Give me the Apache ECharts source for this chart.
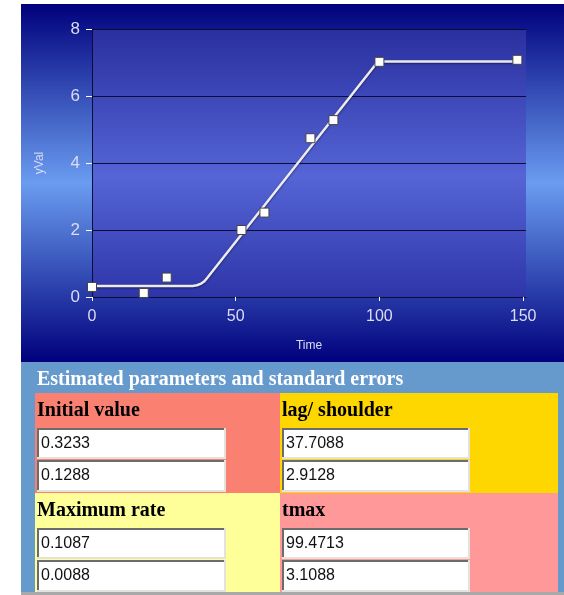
<!DOCTYPE html>
<html><head><meta charset="utf-8">
<script src="https://cdn.jsdelivr.net/npm/echarts@6/dist/echarts.min.js"></script>
<style>html,body{margin:0;padding:0;background:#fff}#chart{width:564px;height:595px}</style>
</head><body><div id="chart"></div>
<script>
// Observed growth measurements
const obsTime = [0, 18, 26, 52, 60, 76, 84, 100, 148];
const obsVal = [0.30, 0.12, 0.58, 2.00, 2.52, 4.74, 5.28, 7.02, 7.08];
// Fitted curve (lag, linear growth, plateau)
const fitTime = [0, 35, 36.5, 38, 39, 40, 99.5, 148];
const fitVal = [0.33, 0.33, 0.35, 0.40, 0.46, 0.56, 7.03, 7.03];
// Axis ticks
const xTicks = [0, 50, 100, 150];
const yTicks = [0, 2, 4, 6, 8];
// Parameter table
const tableTitle = 'Estimated parameters and standard errors';
const paramNames = ['Initial value', 'lag/ shoulder', 'Maximum rate', 'tmax'];
const paramValues = ['0.3233', '37.7088', '0.1087', '99.4713'];
const paramErrors = ['0.1288', '2.9128', '0.0088', '3.1088'];

const chart = echarts.init(document.getElementById('chart'), null, {renderer: 'canvas'});

const vGrad = (stops) => new echarts.graphic.LinearGradient(0, 0, 0, 1,
  stops.map(([o, c]) => ({offset: o, color: c})));

// Table layout
const cellFill = ['#FA8072', '#FFD700', '#FFFF99', '#FF9999'];
const cellX = [35, 280, 35, 280];
const cellW = [245, 278, 245, 278];
const cellY = [393, 393, 493, 493];
const cellH = [100, 100, 99, 99];
const serifBold = 'bold 20px "Liberation Serif", "Times New Roman", serif';

function inputBox(x, y, w, h, text) {
  return [
    {type: 'rect', shape: {x: x, y: y, width: w, height: h}, style: {fill: '#e4e2dc'}, z: 1},
    {type: 'rect', shape: {x: x, y: y, width: w - 2, height: h - 2}, style: {fill: '#6c6c6c'}, z: 1},
    {type: 'rect', shape: {x: x + 2, y: y + 2, width: w - 4, height: h - 4}, style: {fill: '#ffffff'}, z: 1},
    {type: 'text', x: x + 4, y: y + h / 2, z: 2,
      style: {text: text, fill: '#111', font: '16px "Liberation Sans", Arial, sans-serif',
        textVerticalAlign: 'middle', textAlign: 'left'}}
  ];
}

const elements = [
  // chart backdrop
  {type: 'rect', shape: {x: 21, y: 4, width: 543, height: 358}, z: -10,
    style: {fill: vGrad([[0, '#00007c'], [0.5, '#6a9cf0'], [1, '#00007c']])}},
  // table backdrop
  {type: 'rect', shape: {x: 21, y: 362, width: 543, height: 230}, z: -10, style: {fill: '#6699CC'}},
  {type: 'rect', shape: {x: 21, y: 592, width: 543, height: 3}, z: -10, style: {fill: '#a9a9a9'}},
  {type: 'text', x: 37, y: 380, z: 2,
    style: {text: tableTitle, fill: '#ffffff', font: serifBold, textVerticalAlign: 'middle'}}
];
for (let i = 0; i < 4; i++) {
  elements.push({type: 'rect', shape: {x: cellX[i], y: cellY[i], width: cellW[i], height: cellH[i]},
    style: {fill: cellFill[i]}, z: 0});
  elements.push({type: 'text', x: cellX[i] + 2, y: cellY[i] + 18, z: 2,
    style: {text: paramNames[i], fill: '#000', font: serifBold, textVerticalAlign: 'middle'}});
  const bx = cellX[i] + 2;
  const bw = i % 2 === 0 ? 189 : 188;
  elements.push(...inputBox(bx, cellY[i] + 35, bw, 31, paramValues[i]));
  elements.push(...inputBox(bx, cellY[i] + 67, bw, 32, paramErrors[i]));
}

const labelColor = '#dcdcf4';
const darkLine = '#0c0c36';

chart.setOption({
  animation: false,
  backgroundColor: '#ffffff',
  graphic: {elements: elements},
  grid: {
    left: 92, top: 29, width: 434, height: 268, show: true, borderWidth: 0,
    backgroundColor: vGrad([[0, '#2a2f9e'], [0.55, '#5565d6'], [1, '#2e35a8']])
  },
  xAxis: {
    type: 'value', min: 0, max: 151, interval: 50,
    name: 'Time', nameLocation: 'middle', nameGap: 43,
    nameTextStyle: {color: labelColor, fontSize: 12, fontFamily: 'Liberation Sans, Arial, sans-serif'},
    axisLine: {show: true, lineStyle: {color: darkLine, width: 1}},
    axisTick: {show: true, length: 4, customValues: xTicks, lineStyle: {color: '#ffffff'}},
    axisLabel: {customValues: xTicks, color: labelColor, fontSize: 16, margin: 12,
      fontFamily: 'Liberation Sans, Arial, sans-serif'},
    splitLine: {show: false}
  },
  yAxis: {
    type: 'value', min: 0, max: 8, interval: 2,
    name: 'yVal', nameLocation: 'middle', nameGap: 46, nameRotate: 90,
    nameTextStyle: {color: labelColor, fontSize: 12, fontFamily: 'Liberation Sans, Arial, sans-serif'},
    axisLine: {show: true, lineStyle: {color: darkLine, width: 1}},
    axisTick: {show: true, length: 6, lineStyle: {color: '#ffffff'}},
    axisLabel: {customValues: yTicks, color: labelColor, fontSize: 17, margin: 12,
      fontFamily: 'Liberation Sans, Arial, sans-serif'},
    splitLine: {show: true, lineStyle: {color: darkLine, width: 1}}
  },
  series: [
    {
      type: 'line', name: 'fit', data: fitTime.map((t, i) => [t, fitVal[i]]),
      showSymbol: false, symbol: 'none', z: 3,
      lineStyle: {color: '#ececec', width: 2.5, shadowColor: 'rgba(0,0,30,0.5)', shadowBlur: 2, shadowOffsetY: 1}
    },
    {
      type: 'scatter', name: 'observed', data: obsTime.map((t, i) => [t, obsVal[i]]),
      symbol: 'rect', symbolSize: 9, z: 4,
      itemStyle: {color: '#ffffff', borderColor: '#444444', borderWidth: 1, opacity: 1}
    }
  ]
});
</script></body></html>
